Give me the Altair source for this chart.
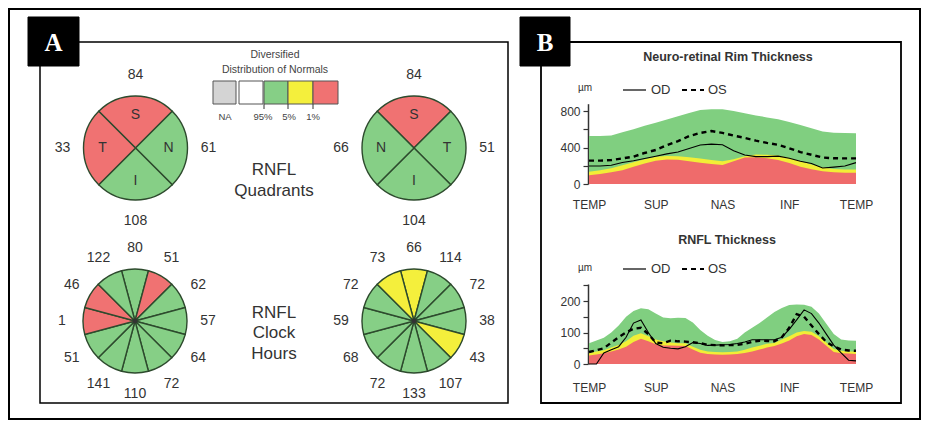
import math
import altair as alt
import pandas as pd

# ------------------------------------------------------------------ data
quad_names_od = ["S", "N", "I", "T"]
quad_values_od = [84, 61, 108, 33]
quad_status_od = ["ONL", "WNL", "WNL", "ONL"]

quad_names_os = ["S", "T", "I", "N"]
quad_values_os = [84, 51, 104, 66]
quad_status_os = ["ONL", "WNL", "WNL", "WNL"]

clock_hours = [12, 1, 2, 3, 4, 5, 6, 7, 8, 9, 10, 11]
clock_values_od = [80, 51, 62, 57, 64, 72, 110, 141, 51, 1, 46, 122]
clock_status_od = ["WNL", "ONL", "WNL", "WNL", "WNL", "WNL", "WNL", "WNL", "WNL", "ONL", "ONL", "WNL"]
clock_values_os = [66, 114, 72, 38, 43, 107, 133, 72, 68, 59, 72, 73]
clock_status_os = ["BL", "WNL", "WNL", "WNL", "BL", "WNL", "WNL", "WNL", "WNL", "WNL", "WNL", "BL"]

legend_categories = ["NA", "SUPRA", "WNL", "BL", "ONL"]
legend_colors = ["#d4d4d4", "#ffffff", "#86cf86", "#f4ef3c", "#f07272"]
legend_tick_labels = ["NA", "95%", "5%", "1%"]
legend_title = ["Diversified", "Distribution of Normals"]

x_tick_values = [0, 90, 180, 270, 360]
x_tick_labels = ["TEMP", "SUP", "NAS", "INF", "TEMP"]

rim_deg = [0, 15, 30, 45, 60, 75, 90, 105, 120, 135, 150, 165, 180,
           195, 210, 225, 240, 255, 270, 285, 300, 315, 330, 345, 360]
rim_green = [526, 526, 531, 566, 601, 637, 672, 707, 743, 778, 811, 818, 818,
             800, 774, 752, 730, 709, 679, 647, 610, 574, 563, 559, 555]
rim_yellow = [135, 150, 172, 205, 238, 272, 298, 306, 305, 292, 280, 262, 248,
              272, 305, 322, 320, 312, 285, 248, 215, 180, 165, 160, 158]
rim_red = [95, 110, 130, 152, 190, 225, 255, 268, 265, 250, 232, 218, 208,
           248, 290, 292, 282, 262, 230, 188, 162, 140, 128, 124, 122]
rim_od = [197, 197, 205, 235, 255, 280, 305, 330, 350, 390, 427, 437, 430,
          365, 318, 300, 300, 305, 282, 250, 225, 175, 185, 197, 234]
rim_os = [256, 256, 262, 280, 300, 340, 373, 425, 470, 525, 560, 580, 560,
          530, 505, 475, 450, 430, 392, 350, 320, 290, 282, 281, 281]

rnfl_deg = list(range(0, 361, 10))
rnfl_green = [66, 75, 83, 100, 122, 150, 168, 177, 174, 160, 148, 145, 147, 146, 132, 108, 90, 76, 70,
              72, 80, 100, 115, 130, 148, 165, 178, 187, 189, 188, 182, 160, 128, 95, 78, 75, 74]
rnfl_yellow = [35, 40, 44, 52, 60, 72, 90, 98, 88, 78, 72, 68, 66, 66, 55, 45, 40, 38, 37,
               38, 40, 45, 52, 58, 64, 67, 78, 88, 100, 105, 102, 88, 68, 48, 42, 40, 40]
rnfl_red = [27, 30, 34, 40, 46, 55, 70, 80, 72, 63, 59, 59, 58, 57, 46, 36, 32, 30, 29,
            30, 32, 35, 40, 46, 52, 57, 65, 75, 88, 95, 92, 78, 58, 38, 34, 33, 32]
rnfl_od = [0, 0, 35, 45, 55, 85, 130, 140, 100, 65, 53, 50, 48, 55, 68, 65, 59, 60, 61,
           62, 65, 70, 77, 77, 77, 77, 85, 110, 140, 172, 160, 130, 95, 60, 35, 12, 10]
rnfl_os = [38, 44, 50, 68, 85, 100, 112, 115, 95, 68, 66, 74, 72, 71, 69, 66, 61, 60, 59,
           60, 61, 64, 70, 74, 73, 72, 85, 115, 158, 150, 122, 95, 70, 56, 46, 43, 42]

# ------------------------------------------------------------------ style / layout
SANS = "Liberation Sans"
SERIF = "Liberation Serif"
TXT = "#333333"
W, H = 913, 412
AREA_GREEN, AREA_YELLOW, AREA_RED = "#80cf80", "#f2ee36", "#ef6b6b"

ONE = pd.DataFrame({"k": [0]})


def box(x0, y0, x1, y1, fill=None, sw=1.5):
    if fill is None:
        mk = alt.Chart(ONE).mark_rect(fillOpacity=0, stroke="black", strokeWidth=sw)
    else:
        mk = alt.Chart(ONE).mark_rect(fill=fill, stroke="black", strokeWidth=sw)
    return mk.encode(x=alt.value(x0), x2=alt.value(x1), y=alt.value(y0), y2=alt.value(y1))


def label(text, x, y, size=12, weight="normal", align="center", font=SANS, color=TXT):
    return alt.Chart(ONE).mark_text(text=text, fontSize=size, fontWeight=weight, align=align,
                                    baseline="middle", font=font, color=color).encode(
        x=alt.value(x), y=alt.value(y))


def hline(x0, x1, y, dash=None, sw=1.2):
    kw = dict(color="black", strokeWidth=sw)
    if dash:
        kw["strokeDash"] = dash
    return alt.Chart(ONE).mark_rule(**kw).encode(x=alt.value(x0), x2=alt.value(x1), y=alt.value(y))


theta_scale = alt.Scale(domain=[0, 360], range=[0, 2 * math.pi])
color_scale = alt.Scale(domain=legend_categories, range=legend_colors)


def pie_frame(values, status, names, step):
    n = len(values)
    return pd.DataFrame({
        "value": values,
        "status": status,
        "name": names,
        "t0": [i * step - step / 2 for i in range(n)],
        "t1": [i * step + step / 2 for i in range(n)],
        "tm": [i * step for i in range(n)],
    })


def pie(df, cx, cy, r, num_r, letter_r=None, center_dot=False):
    layers = [
        alt.Chart(df).mark_arc(radius=r, stroke="#2d4a2d", strokeWidth=1.4).encode(
            theta=alt.Theta("t0:Q", scale=theta_scale, stack=False),
            theta2="t1:Q",
            color=alt.Color("status:N", scale=color_scale, legend=None),
            x=alt.value(cx), y=alt.value(cy)),
        alt.Chart(df).mark_text(radius=num_r, fontSize=14, font=SANS, color=TXT,
                                align="center", baseline="middle").encode(
            theta=alt.Theta("tm:Q", scale=theta_scale, stack=False),
            text="value:Q", x=alt.value(cx), y=alt.value(cy)),
    ]
    if letter_r:
        layers.append(alt.Chart(df).mark_text(radius=letter_r, fontSize=14, font=SANS, color=TXT,
                                              align="center", baseline="middle").encode(
            theta=alt.Theta("tm:Q", scale=theta_scale, stack=False),
            text="name:N", x=alt.value(cx), y=alt.value(cy)))
    if center_dot:
        layers.append(alt.Chart(ONE).mark_circle(size=22, color="#333", opacity=1).encode(
            x=alt.value(cx), y=alt.value(cy)))
    return layers


q_od = pie_frame(quad_values_od, quad_status_od, quad_names_od, 90)
q_os = pie_frame(quad_values_os, quad_status_os, quad_names_os, 90)
c_od = pie_frame(clock_values_od, clock_status_od, [str(h) for h in clock_hours], 30)
c_os = pie_frame(clock_values_os, clock_status_os, [str(h) for h in clock_hours], 30)

# legend swatches (Diversified distribution of normals)
sw_x0 = [205, 231, 256, 280, 305]
sw_x1 = [228, 255, 280, 305, 330]
swatch_df = pd.DataFrame({"status": legend_categories, "x0": sw_x0, "x1": sw_x1})
swatches = alt.Chart(swatch_df).mark_rect(stroke="#555", strokeWidth=1).encode(
    x=alt.X("x0:Q", scale=None, axis=None), x2="x1:Q",
    y=alt.value(73), y2=alt.value(96),
    color=alt.Color("status:N", scale=color_scale, legend=None))
tick_df = pd.DataFrame({"x": [256, 280, 305]})
sw_ticks = alt.Chart(tick_df).mark_rule(color="#333", strokeWidth=1).encode(
    x=alt.X("x:Q", scale=None, axis=None), y=alt.value(96), y2=alt.value(101))

# ------------------------------------------------------------------ line/area plots
label_expr = "[" + ",".join("'%s'" % t for t in x_tick_labels) + "][round(datum.value / 90)]"


def profile(df, xrange, ydomain, yrange, yticks, ylabel_every, x_axis_y, y_axis_x, label_pad):
    xaxis = alt.Axis(orient="bottom", values=x_tick_values, labelExpr=label_expr, domain=False,
                     ticks=False, grid=False, labelPadding=label_pad, labelFontSize=12,
                     labelColor=TXT, labelFont=SANS, labelFlush=False, labelOverlap=False,
                     labelBound=False, offset=x_axis_y - H, title=None)
    yaxis = alt.Axis(orient="left", values=yticks,
                     labelExpr="datum.value %% %d == 0 ? datum.label : ''" % ylabel_every,
                     grid=False, domainColor="#333", domainWidth=1.5, tickColor="#333",
                     tickWidth=1.2, tickSize=5, labelFontSize=12, labelColor=TXT, labelFont=SANS,
                     labelPadding=3, offset=-y_axis_x, title=None, labelOverlap=False,
                     labelFlush=False, labelBound=False)
    xs = alt.Scale(domain=[0, 360], range=xrange, nice=False, zero=False)
    ys = alt.Scale(domain=ydomain, range=yrange, nice=False)
    X = alt.X("deg:Q", scale=xs, axis=xaxis)

    def Y(col):
        return alt.Y(col + ":Q", scale=ys, axis=yaxis)

    base = alt.Chart(df)
    return alt.layer(
        base.mark_area(color=AREA_GREEN, opacity=1).encode(x=X, y=Y("green")),
        base.mark_area(color=AREA_YELLOW, opacity=1).encode(x=X, y=Y("yellow")),
        base.mark_area(color=AREA_RED, opacity=1).encode(x=X, y=Y("red")),
        base.mark_line(color="black", strokeWidth=1.1).encode(x=X, y=Y("od")),
        base.mark_line(color="black", strokeWidth=2.4, strokeDash=[5, 4]).encode(x=X, y=Y("os")),
    )


rim_df = pd.DataFrame({"deg": rim_deg, "green": rim_green, "yellow": rim_yellow,
                       "red": rim_red, "od": rim_od, "os": rim_os})
rnfl_df = pd.DataFrame({"deg": rnfl_deg, "green": rnfl_green, "yellow": rnfl_yellow,
                        "red": rnfl_red, "od": rnfl_od, "os": rnfl_os})

rim_plot = profile(rim_df, [581, 848], [0, 880], [176, 95.7], [0, 200, 400, 600, 800], 400,
                   176, 580, 15)
rnfl_plot = profile(rnfl_df, [581, 848], [0, 254], [356, 276], [0, 50, 100, 150, 200, 250], 100,
                    356, 580, 18)

# ------------------------------------------------------------------ assemble
layers = [
    box(1, 1, W - 1, H - 1, sw=2),
    box(32, 34, 500, 395, sw=1.5),
    box(533, 34, 893, 395, sw=1.8),
    box(20, 9, 71, 58, fill="black", sw=1),
    box(512, 9, 562, 58, fill="black", sw=1),
    label("A", 45.5, 35, size=25, weight="bold", font=SERIF, color="white"),
    label("B", 537, 35, size=25, weight="bold", font=SERIF, color="white"),
    # panel A
    label(legend_title[0], 267, 47, size=10.5, color="#444"),
    label(legend_title[1], 267, 62, size=10.5, color="#444"),
    swatches, sw_ticks,
    label(legend_tick_labels[0], 217, 109, size=9.5, color="#444"),
    label(legend_tick_labels[1], 255, 109, size=9.5, color="#444"),
    label(legend_tick_labels[2], 281, 109, size=9.5, color="#444"),
    label(legend_tick_labels[3], 305, 109, size=9.5, color="#444"),
    label("RNFL", 266, 162, size=17),
    label("Quadrants", 266, 183, size=17),
    label("RNFL", 266, 305, size=17),
    label("Clock", 266, 325, size=17),
    label("Hours", 266, 346, size=17),
]
layers += pie(q_od, 127.5, 140, 52, 73, letter_r=33)
layers += pie(q_os, 406, 140, 52, 73, letter_r=33)
layers += pie(c_od, 127, 313, 52, 73, center_dot=True)
layers += pie(c_os, 406, 313, 52, 73, center_dot=True)
layers += [
    # panel B
    label("Neuro-retinal Rim Thickness", 720, 49, size=12.5, weight="bold"),
    label("µm", 577, 80, size=10),
    hline(615, 638, 82),
    label("OD", 643, 82, size=13, align="left"),
    hline(674, 696, 82, dash=[5, 4], sw=2.2),
    label("OS", 700, 82, size=13, align="left"),
    label("RNFL Thickness", 719, 232, size=12.5, weight="bold"),
    label("µm", 577, 260, size=10),
    hline(615, 638, 261),
    label("OD", 643, 261, size=13, align="left"),
    hline(674, 696, 261, dash=[5, 4], sw=2.2),
    label("OS", 700, 261, size=13, align="left"),
    rim_plot,
    rnfl_plot,
]

chart = alt.layer(*layers).resolve_scale(x="independent", y="independent").properties(
    width=W, height=H, padding=0, autosize=alt.AutoSizeParams(type="none"),
    background="white",
).configure_view(stroke=None)

chart.save("out.html", embed_options={"renderer": "svg", "actions": False})
